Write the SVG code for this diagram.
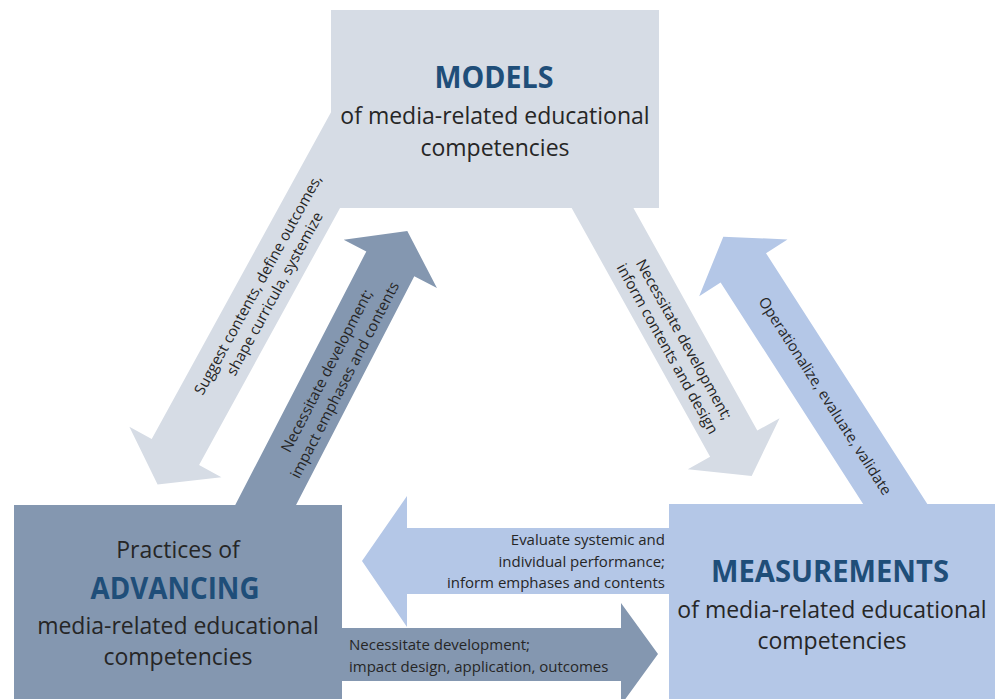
<svg xmlns="http://www.w3.org/2000/svg" width="995" height="699" viewBox="0 0 995 699">
<style>
.grey{fill:#d6dce5}
.dark{fill:#8497b0}
.blue{fill:#b4c7e7}
.lbl{font-family:"Open Sans","Noto Sans",sans-serif;font-size:15px;fill:#262626}
.body{font-family:"Open Sans","Noto Sans",sans-serif;font-size:23px;fill:#262626;text-anchor:middle}
.title{font-family:"Open Sans","Noto Sans",sans-serif;font-size:31px;font-weight:bold;fill:#1f4e79;text-anchor:middle}
</style>
<rect width="995" height="699" fill="#ffffff"/>
<g id="connectors">
  <g id="arrow-models-advancing">
    <polygon class="grey" points="0,0 -37,-52.5 -37,-27 -420,-27 -420,27 -37,27 -37,52.5" transform="translate(157.6,484.4) rotate(118.75)"/>
    <text class="lbl" text-anchor="middle" transform="translate(266,289) rotate(-61.25)"><tspan x="0" y="-4">Suggest contents, define outcomes,</tspan><tspan x="0" y="15">shape curricula, systemize</tspan></text>
  </g>
  <g id="arrow-advancing-models">
    <polygon class="dark" points="0,0 -37,-52.5 -37,-27 -340,-27 -340,27 -37,27 -37,52.5" transform="translate(407.3,231) rotate(-62.66)"/>
    <text class="lbl" text-anchor="middle" transform="translate(335,375) rotate(-62.66)"><tspan x="0" y="-4">Necessitate development;</tspan><tspan x="0" y="16">impact emphases and contents</tspan></text>
  </g>
  <g id="arrow-models-measurements">
    <polygon class="grey" points="0,0 -37,-52.5 -37,-27 -340,-27 -340,27 -37,27 -37,52.5" transform="translate(751.7,476) rotate(60.9)"/>
    <text class="lbl" text-anchor="middle" transform="translate(676,344) rotate(60.9)"><tspan x="0" y="-4">Necessitate development;</tspan><tspan x="0" y="15">inform contents and design</tspan></text>
  </g>
  <g id="arrow-measurements-models">
    <polygon class="blue" points="0,0 -37,-52.5 -37,-27 -350,-27 -350,27 -37,27 -37,52.5" transform="translate(723.3,236.7) rotate(-122.75)"/>
    <text class="lbl" text-anchor="middle" transform="translate(825,396) rotate(57.25)" y="5">Operationalize, evaluate, validate</text>
  </g>
  <g id="arrow-measurements-advancing">
    <polygon class="blue" points="362,561 407,496 407,528 700,528 700,594 407,594 407,627"/>
    <text class="lbl" text-anchor="end"><tspan x="665" y="545">Evaluate systemic and</tspan><tspan x="665" y="567">individual performance;</tspan><tspan x="665" y="588">inform emphases and contents</tspan></text>
  </g>
  <g id="arrow-advancing-measurements">
    <polygon class="dark" points="658,654 621,603 621,628 300,628 300,681 621,681 621,705"/>
    <text class="lbl"><tspan x="349" y="650">Necessitate development;</tspan><tspan x="349" y="672">impact design, application, outcomes</tspan></text>
  </g>
</g>
<g id="models">
  <rect class="grey" x="331" y="10" width="328" height="198"/>
  <text class="title" x="494" y="88" textLength="119" lengthAdjust="spacingAndGlyphs">MODELS</text>
  <text class="body" x="495" y="124">of media-related educational</text>
  <text class="body" x="495" y="156">competencies</text>
</g>
<g id="advancing">
  <rect class="dark" x="14" y="505" width="328" height="194"/>
  <text class="body" x="178" y="558">Practices of</text>
  <text class="title" x="175" y="599" textLength="169" lengthAdjust="spacingAndGlyphs">ADVANCING</text>
  <text class="body" x="178" y="634">media-related educational</text>
  <text class="body" x="178" y="665">competencies</text>
</g>
<g id="measurements">
  <rect class="blue" x="669" y="504" width="326" height="195"/>
  <text class="title" x="830" y="582" textLength="238" lengthAdjust="spacingAndGlyphs">MEASUREMENTS</text>
  <text class="body" x="832" y="618">of media-related educational</text>
  <text class="body" x="832" y="649">competencies</text>
</g>
</svg>
